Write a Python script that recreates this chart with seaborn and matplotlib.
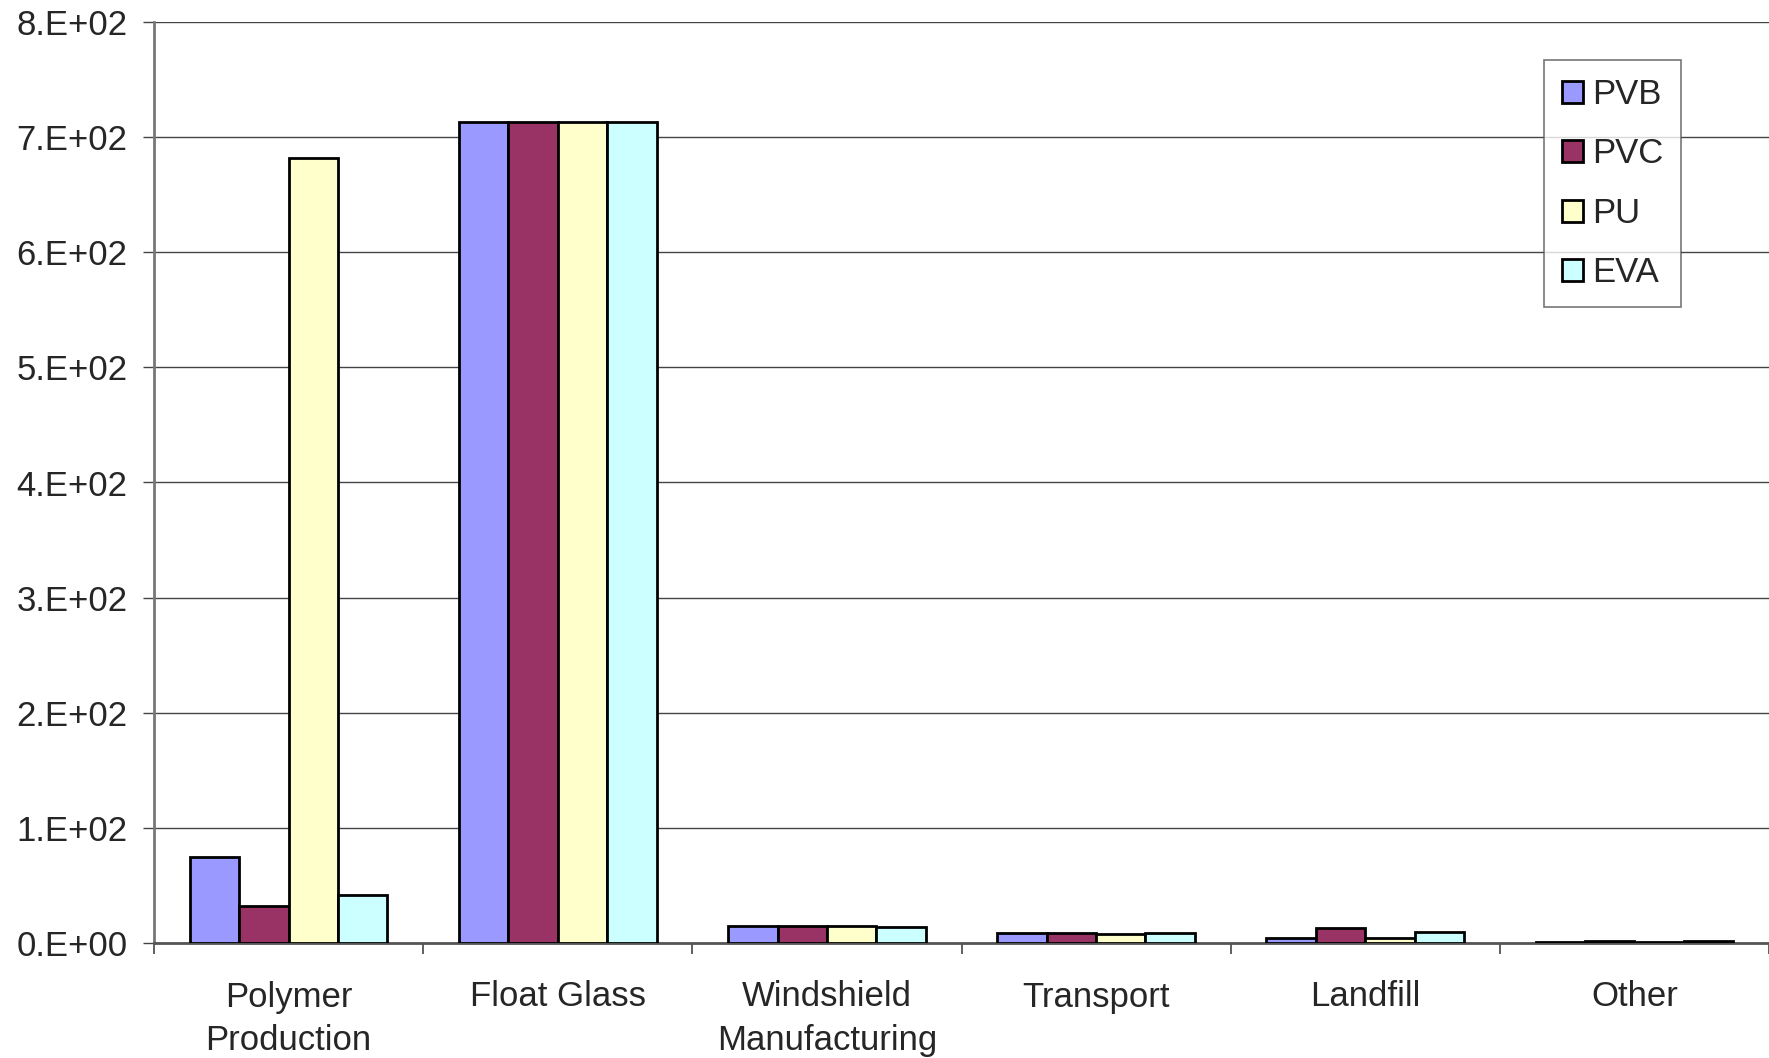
import matplotlib
matplotlib.use("Agg")
import matplotlib.pyplot as plt
import seaborn as sns
import pandas as pd
import numpy as np

stages = ["Polymer\nProduction", "Float Glass", "Windshield\nManufacturing",
          "Transport", "Landfill", "Other"]
pvb = [75, 713, 14.4, 8.7, 4.3, 1.0]
pvc = [32, 713, 14.4, 8.7, 12.7, 1.5]
pu = [682, 713, 14.4, 7.8, 4.0, 1.0]
eva = [42, 713, 13.6, 8.7, 9.8, 1.5]
series = ["PVB", "PVC", "PU", "EVA"]
colors = ["#9999FF", "#993366", "#FFFFCC", "#CCFFFF"]
yticks = np.arange(0, 801, 100)

rows = []
for name, vals in zip(series, [pvb, pvc, pu, eva]):
    for stage, v in zip(stages, vals):
        rows.append({"Stage": stage, "Material": name, "Value": v})
df = pd.DataFrame(rows)

sns.set_theme(style="white")
plt.rcParams["font.family"] = ["Liberation Sans", "DejaVu Sans"]

fig = plt.figure(figsize=(17.69, 10.58), dpi=100)
ax = fig.add_axes([154 / 1769, 115 / 1058, 1 - 154 / 1769, (943 - 22) / 1058])

sns.barplot(data=df, x="Stage", y="Value", hue="Material", order=stages,
            hue_order=series, palette=colors, width=0.734, saturation=1,
            edgecolor="black", linewidth=2.0, ax=ax, zorder=3)

ax.set_ylim(0, 800)
ax.set_xlim(-0.5, len(stages) - 0.5)
ax.set_yticks(yticks)
ax.set_yticklabels([f"{int(v // 100)}.E+{'02' if v else '00'}" for v in yticks], fontsize=25)
ax.yaxis.grid(True, color="#444444", linewidth=1.0, zorder=0)
ax.set_axisbelow(True)

# category ticks sit on the group boundaries
ax.set_xticks(np.arange(len(stages)))
ax.set_xticklabels(stages, fontsize=25, linespacing=1.4)
ax.set_xticks(np.arange(-0.5, len(stages), 1.0), minor=True)
ax.tick_params(axis="x", which="major", length=0, pad=27)
ax.tick_params(axis="x", which="minor", length=8, width=1.2, color="#444444", bottom=True)
ax.tick_params(axis="y", length=8, width=1.0, color="#444444", left=True, pad=11)
ax.set_xlabel("")
ax.set_ylabel("")

for side in ["top", "right"]:
    ax.spines[side].set_visible(False)
ax.spines["left"].set_color("#777777")
ax.spines["left"].set_linewidth(2.0)
ax.spines["bottom"].set_color("#555555")
ax.spines["bottom"].set_linewidth(2.0)

leg = ax.legend(loc="upper right", frameon=True, fontsize=25,
                handlelength=0.6, handleheight=0.6, handletextpad=0.25,
                labelspacing=0.76, borderpad=0.52, borderaxespad=0,
                fancybox=False, edgecolor="#555555")
leg.get_frame().set_linewidth(1.2)
leg.set_bbox_to_anchor((1681 / 1769, (1058 - 60) / 1058), transform=fig.transFigure)

fig.savefig("out.png", dpi=100, facecolor="white")
